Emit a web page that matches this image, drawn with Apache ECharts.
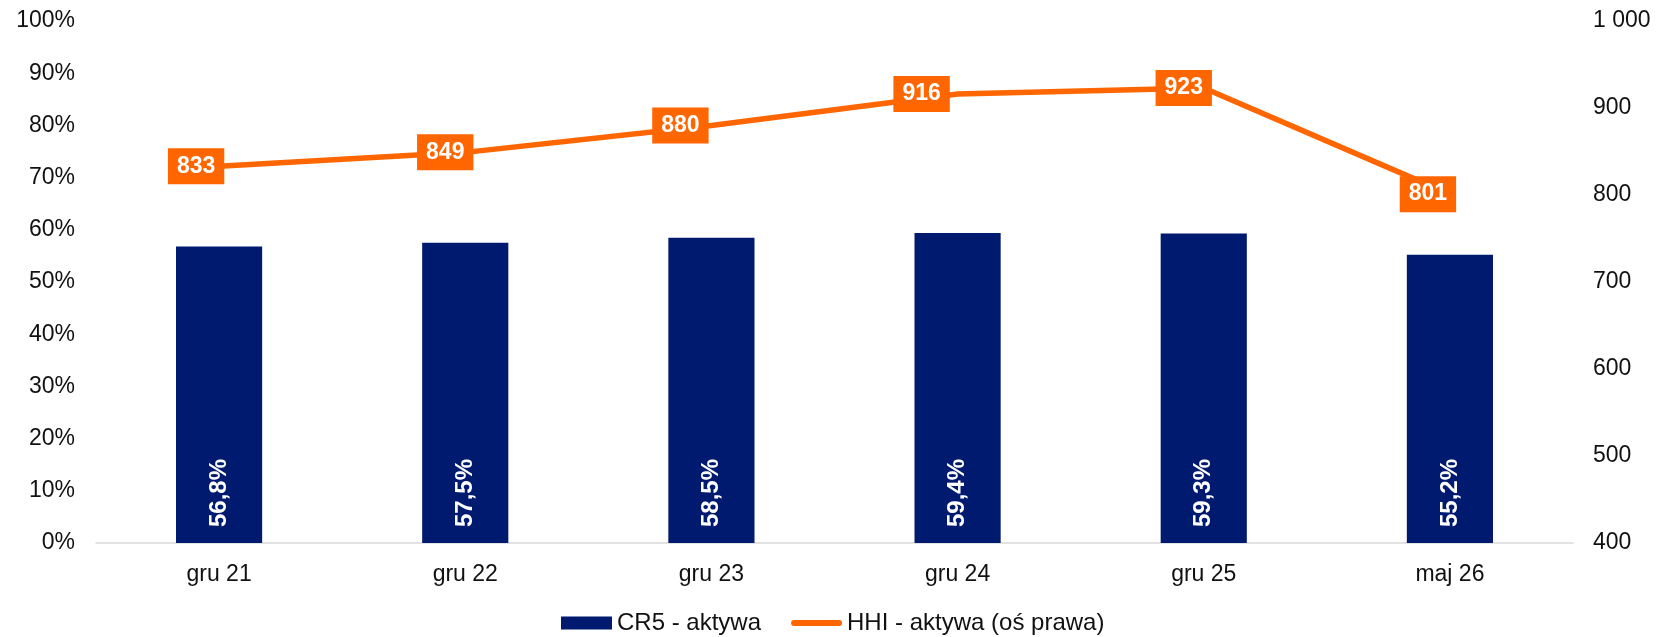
<!DOCTYPE html>
<html>
<head>
<meta charset="utf-8">
<script src="https://cdn.jsdelivr.net/npm/echarts@6/dist/echarts.min.js"></script>
<style>
  html, body { margin: 0; padding: 0; background: #fff; }
  #chart { width: 1666px; height: 637px; }
</style>
</head>
<body>
<div id="chart"></div>
<script>
// dane
var categories = ['gru 21', 'gru 22', 'gru 23', 'gru 24', 'gru 25', 'maj 26'];
var cr5 = [56.8, 57.5, 58.5, 59.4, 59.3, 55.2];      // CR5 - aktywa, %
var hhi = [833, 849, 880, 916, 923, 801];            // HHI - aktywa (oś prawa)

// przesunięcie etykiet HHI w lewo (tak jak w oryginale)
var hhiLabelShift = [-23, -20, -31, -36, -20, -22];

var fontName = '"Liberation Sans", Arial, sans-serif';
var navy = '#001A70';
var orange = '#FF6600';

var chart = echarts.init(document.getElementById('chart'));
chart.setOption({
  backgroundColor: '#fff',
  animation: false,
  textStyle: { fontFamily: fontName },
  grid: {
    left: 96,
    right: 93,
    top: 21,
    bottom: 94
  },
  legend: {
    left: 556,
    top: 606,
    itemGap: 30,
    itemWidth: 51,
    itemHeight: 13,
    textStyle: { color: '#111', fontSize: 24, fontFamily: fontName },
    data: [
      { name: 'CR5 - aktywa', icon: 'rect' },
      { name: 'HHI - aktywa (oś prawa)', icon: 'path://M3,0H48A3,3 0 0 1 48,6H3A3,3 0 0 1 3,0Z' }
    ]
  },
  xAxis: {
    type: 'category',
    data: categories,
    axisTick: { show: false },
    axisLine: { lineStyle: { color: '#d9d9d9', width: 1.5 } },
    axisLabel: { color: '#111', fontSize: 23, margin: 20 }
  },
  yAxis: [
    {
      type: 'value',
      min: 0,
      max: 100,
      interval: 10,
      splitLine: { show: false },
      axisLabel: { color: '#111', fontSize: 23, margin: 21, formatter: '{value}%' }
    },
    {
      type: 'value',
      min: 400,
      max: 1000,
      interval: 100,
      splitLine: { show: false },
      axisLabel: {
        color: '#111',
        fontSize: 23,
        margin: 20,
        formatter: function (v) {
          return v >= 1000 ? String(v).replace(/\B(?=(\d{3})+(?!\d))/g, ' ') : String(v);
        }
      }
    }
  ],
  series: [
    {
      name: 'CR5 - aktywa',
      type: 'bar',
      barWidth: '35%',
      itemStyle: { color: navy },
      label: {
        show: true,
        position: 'insideBottom',
        rotate: 90,
        align: 'left',
        verticalAlign: 'middle',
        distance: 16,
        color: '#fff',
        fontWeight: 'bold',
        fontSize: 24,
        formatter: function (p) {
          return p.value.toFixed(1).replace('.', ',') + '%';
        }
      },
      data: cr5
    },
    {
      name: 'HHI - aktywa (oś prawa)',
      type: 'line',
      yAxisIndex: 1,
      symbol: 'rect',
      symbolSize: 1,
      itemStyle: { color: orange },
      lineStyle: { color: orange, width: 5.5 },
      label: {
        show: true,
        position: 'inside',
        color: '#fff',
        fontWeight: 'bold',
        fontSize: 23,
        lineHeight: 24,
        backgroundColor: orange,
        padding: [6, 9, 6, 9]
      },
      data: hhi.map(function (v, i) {
        return { value: v, label: { offset: [hhiLabelShift[i], 0] } };
      })
    }
  ]
});
</script>
</body>
</html>
